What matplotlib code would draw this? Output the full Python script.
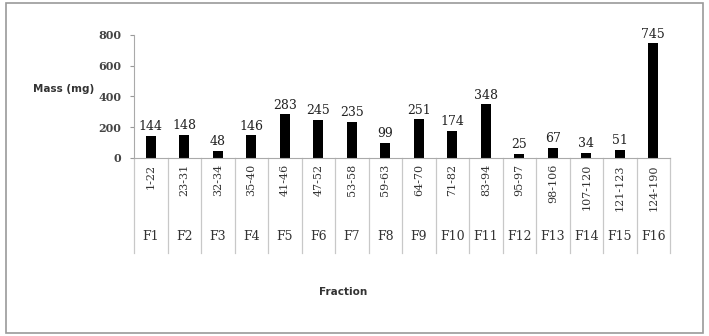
import matplotlib.pyplot as plt
import matplotlib.transforms as mtransforms
from matplotlib.patches import Rectangle

# datos
fracciones = ['F1', 'F2', 'F3', 'F4', 'F5', 'F6', 'F7', 'F8',
              'F9', 'F10', 'F11', 'F12', 'F13', 'F14', 'F15', 'F16']
rangos = ['1-22', '23-31', '32-34', '35-40', '41-46', '47-52', '53-58', '59-63',
          '64-70', '71-82', '83-94', '95-97', '98-106', '107-120', '121-123', '124-190']
masas = [144, 148, 48, 146, 283, 245, 235, 99, 251, 174, 348, 25, 67, 34, 51, 745]

fig = plt.figure(figsize=(7.09, 3.36), dpi=100)
ax = fig.add_axes([0.189, 0.53, 0.756, 0.366])

# borde de la figura
fig.patches.append(Rectangle((0.008, 0.01), 0.984, 0.98, transform=fig.transFigure,
                             fill=False, edgecolor='#9a9a9a', linewidth=1.2))

x = list(range(len(masas)))
ax.bar(x, masas, width=0.3, color='black')

for xi, m in zip(x, masas):
    ax.text(xi, m + 18, str(m), ha='center', va='bottom', fontsize=9,
            family='DejaVu Serif', color='#222222')

ax.set_xlim(-0.5, len(masas) - 0.5)
ax.set_ylim(0, 800)
ax.set_yticks([0, 200, 400, 600, 800])
ax.set_yticklabels(['0', '200', '400', '600', '800'], family='DejaVu Serif',
                   fontsize=8, fontweight='bold', color='#444444')
ax.tick_params(axis='y', length=3, color='#999999', pad=6)
ax.set_xticks([])

for lado in ['top', 'right']:
    ax.spines[lado].set_visible(False)
ax.spines['left'].set_color('#aaaaaa')
ax.spines['bottom'].set_color('#aaaaaa')

# tabla de categorias debajo del eje
trans = mtransforms.blended_transform_factory(ax.transData, ax.transAxes)
y_fondo = -0.77
for b in range(len(masas) + 1):
    ax.plot([b - 0.5, b - 0.5], [0, y_fondo], transform=trans, color='#c8c8c8',
            linewidth=0.9, clip_on=False)
for xi, r, f in zip(x, rangos, fracciones):
    ax.text(xi, -0.05, r, transform=trans, rotation=90, ha='center', va='top',
            fontsize=8, family='DejaVu Serif', color='#333333')
    ax.text(xi, -0.64, f, transform=trans, ha='center', va='center',
            fontsize=9, family='DejaVu Serif', color='#333333')

fig.text(0.09, 0.735, 'Mass (mg)', ha='center', va='center', fontsize=7.5,
         fontweight='bold', color='#333333')
fig.text(0.484, 0.13, 'Fraction', ha='center', va='center', fontsize=7.5,
         fontweight='bold', color='#333333')

fig.savefig('out.png', dpi=100)
